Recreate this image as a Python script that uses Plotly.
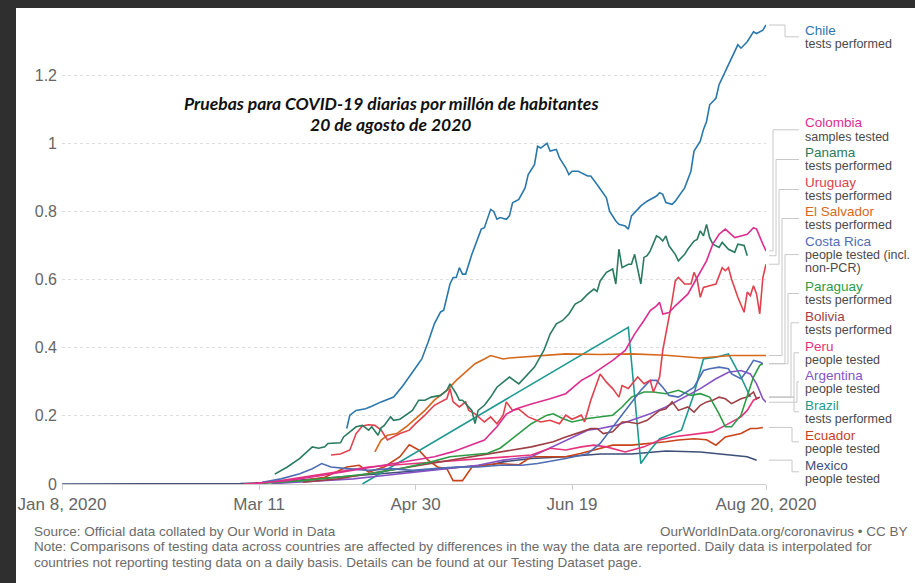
import plotly.graph_objects as go

# ---------------- data ----------------
chile_dates = ["04-08","04-09","04-11","04-14","04-16","04-19","04-23","04-26","04-29","05-02","05-04","05-06","05-08","05-09","05-11","05-12","05-13","05-14","05-15","05-16","05-18","05-19","05-21","05-22","05-24","05-25","05-26","05-27","05-29","05-30","05-31","06-02","06-04","06-05","06-07","06-08","06-09","06-11","06-12","06-14","06-15","06-17","06-18","06-19","06-21","06-24","06-25","06-27","06-29","06-30","07-01","07-03","07-04","07-06","07-07","07-08","07-10","07-11","07-13","07-14","07-16","07-17","07-18","07-19","07-21","07-22","07-24","07-25","07-27","07-28","07-30","07-31","08-01","08-02","08-04","08-05","08-07","08-09","08-11","08-12","08-14","08-16","08-17","08-19","08-20"]
chile_vals = [0.163,0.202,0.216,0.221,0.228,0.241,0.255,0.289,0.328,0.367,0.416,0.47,0.505,0.51,0.587,0.606,0.606,0.635,0.616,0.616,0.674,0.699,0.748,0.752,0.806,0.80,0.777,0.782,0.777,0.787,0.825,0.835,0.869,0.908,0.937,0.991,0.986,1.0,0.977,0.982,0.957,0.928,0.908,0.918,0.918,0.904,0.904,0.879,0.855,0.84,0.801,0.772,0.762,0.757,0.748,0.787,0.806,0.816,0.83,0.835,0.845,0.855,0.85,0.826,0.821,0.83,0.855,0.869,0.918,0.977,1.006,1.04,1.064,1.113,1.132,1.172,1.211,1.249,1.289,1.279,1.298,1.327,1.322,1.332,1.347]

colombia_dates = ["03-10","03-20","03-31","04-10","04-20","04-30","05-06","05-12","05-16","05-22","05-26","05-29","06-01","06-06","06-12","06-17","06-22","06-25","06-28","07-02","07-06","07-09","07-12","07-14","07-16","07-17","07-18","07-20","07-22","07-26","07-29","08-01","08-03","08-05","08-07","08-10","08-12","08-14","08-16","08-17","08-19","08-20"]
colombia_vals = [0.002,0.01,0.025,0.04,0.055,0.07,0.08,0.095,0.109,0.129,0.168,0.205,0.22,0.235,0.25,0.265,0.304,0.319,0.338,0.363,0.392,0.44,0.48,0.509,0.523,0.533,0.499,0.503,0.523,0.557,0.606,0.655,0.704,0.733,0.748,0.723,0.728,0.733,0.752,0.748,0.704,0.684]

panama_dates = ["03-16","03-20","03-24","03-27","03-28","03-30","04-01","04-02","04-05","04-06","04-07","04-09","04-11","04-13","04-15","04-16","04-18","04-19","04-20","04-22","04-23","04-25","04-27","04-29","05-01","05-03","05-05","05-08","05-10","05-11","05-13","05-14","05-15","05-16","05-18","05-19","05-20","05-22","05-24","05-26","05-28","05-30","06-02","06-04","06-07","06-10","06-12","06-14","06-16","06-18","06-20","06-22","06-24","06-26","06-27","06-28","06-30","07-02","07-03","07-04","07-05","07-07","07-08","07-09","07-11","07-12","07-13","07-14","07-16","07-17","07-18","07-19","07-20","07-22","07-23","07-25","07-26","07-28","07-29","07-30","07-31","08-01","08-02","08-03","08-05","08-06","08-08","08-10","08-11","08-13","08-14"]
panama_vals = [0.029,0.05,0.075,0.10,0.109,0.105,0.109,0.119,0.119,0.121,0.138,0.153,0.168,0.172,0.158,0.168,0.143,0.165,0.172,0.197,0.187,0.19,0.202,0.216,0.246,0.246,0.255,0.26,0.275,0.294,0.265,0.246,0.246,0.236,0.216,0.177,0.216,0.231,0.255,0.284,0.299,0.314,0.294,0.314,0.343,0.392,0.44,0.47,0.48,0.499,0.528,0.538,0.557,0.572,0.565,0.596,0.621,0.631,0.587,0.689,0.635,0.645,0.645,0.674,0.587,0.665,0.67,0.684,0.728,0.723,0.713,0.728,0.699,0.674,0.655,0.674,0.689,0.713,0.718,0.743,0.728,0.762,0.723,0.704,0.694,0.709,0.689,0.68,0.704,0.70,0.67]

uruguay_dates = ["04-03","04-06","04-09","04-11","04-13","04-15","04-17","04-19","04-21","04-23","04-25","04-28","04-30","05-03","05-06","05-10","05-11","05-12","05-14","05-16","05-17","05-19","05-22","05-24","05-26","05-28","05-29","05-31","06-02","06-05","06-09","06-12","06-15","06-17","06-19","06-22","06-23","06-25","06-27","06-28","06-30","07-02","07-04","07-05","07-07","07-10","07-12","07-14","07-15","07-17","07-18","07-19","07-20","07-21","07-22","07-23","07-25","07-27","07-28","07-29","07-30","07-31","08-02","08-04","08-06","08-07","08-08","08-09","08-11","08-13","08-14","08-15","08-16","08-17","08-18","08-19","08-20"]
uruguay_vals = [0.085,0.088,0.10,0.148,0.17,0.174,0.172,0.158,0.129,0.138,0.148,0.158,0.177,0.202,0.231,0.25,0.28,0.241,0.226,0.241,0.216,0.206,0.182,0.197,0.177,0.202,0.241,0.216,0.22,0.197,0.182,0.187,0.177,0.202,0.19,0.202,0.182,0.246,0.294,0.323,0.299,0.28,0.255,0.289,0.28,0.314,0.294,0.304,0.27,0.314,0.392,0.44,0.489,0.538,0.596,0.606,0.587,0.587,0.621,0.60,0.548,0.577,0.582,0.587,0.635,0.626,0.635,0.601,0.548,0.504,0.563,0.553,0.582,0.557,0.499,0.606,0.645]

elsalvador_dates = ["04-17","04-19","04-21","04-24","04-27","04-30","05-03","05-06","05-10","05-13","05-16","05-19","05-22","05-24","05-26","05-28","05-30","06-06","06-17","06-28","07-08","07-19","07-30","08-09","08-20"]
elsalvador_vals = [0.094,0.129,0.143,0.148,0.168,0.192,0.216,0.246,0.275,0.304,0.328,0.353,0.367,0.377,0.372,0.367,0.37,0.374,0.382,0.38,0.382,0.378,0.37,0.377,0.377]

costarica_dates = ["03-12","03-18","03-24","03-28","03-31","04-03","04-08","04-15","04-22","04-29","05-06","05-13","05-20","05-27","06-03","06-08","06-17","06-24","06-28","07-02","07-06","07-11","07-14","07-16","07-18","07-20","07-23","07-28","07-31","08-02","08-05","08-08","08-09","08-12","08-14","08-16","08-18","08-19"]
costarica_vals = [0.005,0.015,0.03,0.045,0.06,0.05,0.045,0.04,0.045,0.04,0.045,0.05,0.05,0.055,0.055,0.06,0.075,0.089,0.119,0.168,0.216,0.275,0.304,0.304,0.284,0.26,0.255,0.284,0.333,0.338,0.343,0.338,0.323,0.309,0.333,0.363,0.358,0.353]

paraguay_dates = ["03-12","03-25","04-05","04-15","04-25","05-05","05-11","05-18","05-23","05-27","06-02","06-06","06-11","06-13","06-16","06-19","06-24","06-28","07-02","07-05","07-08","07-12","07-15","07-19","07-23","07-27","07-30","08-02","08-05","08-07","08-09","08-12","08-14","08-16","08-18","08-19"]
paraguay_vals = [0.002,0.01,0.02,0.03,0.045,0.065,0.08,0.085,0.09,0.105,0.148,0.177,0.202,0.206,0.192,0.182,0.192,0.197,0.202,0.226,0.255,0.27,0.27,0.265,0.275,0.26,0.265,0.255,0.206,0.168,0.168,0.202,0.255,0.314,0.348,0.353]

bolivia_dates = ["03-25","04-05","04-15","04-25","05-05","05-15","05-22","05-28","06-06","06-13","06-17","06-22","06-25","06-27","06-29","07-02","07-05","07-07","07-10","07-13","07-15","07-17","07-19","07-21","07-23","07-26","07-28","07-30","08-01","08-03","08-05","08-07","08-09","08-12","08-14","08-16","08-17","08-18"]
bolivia_vals = [0.005,0.015,0.03,0.045,0.06,0.075,0.085,0.094,0.109,0.124,0.138,0.153,0.163,0.163,0.148,0.153,0.182,0.182,0.177,0.187,0.202,0.216,0.221,0.241,0.216,0.226,0.211,0.231,0.241,0.246,0.255,0.25,0.236,0.25,0.255,0.27,0.25,0.255]

peru_dates = ["03-06","03-11","03-18","03-25","04-01","04-08","04-15","04-22","04-29","05-06","05-13","05-20","05-28","06-06","06-12","06-17","06-22","06-26","06-30","07-06","07-12","07-17","07-21","07-26","07-30","08-03","08-07","08-09","08-12","08-14","08-16","08-18"]
peru_vals = [0.0,0.003,0.01,0.02,0.03,0.04,0.05,0.055,0.06,0.065,0.07,0.075,0.08,0.085,0.105,0.10,0.109,0.114,0.109,0.094,0.109,0.129,0.138,0.143,0.148,0.153,0.172,0.182,0.197,0.216,0.246,0.255]

argentina_dates = ["03-15","03-30","04-10","04-20","05-01","05-10","05-20","05-28","06-06","06-17","06-24","06-28","07-03","07-08","07-14","07-19","07-25","07-30","08-04","08-08","08-12","08-15","08-17","08-19","08-20"]
argentina_vals = [0.001,0.008,0.015,0.025,0.035,0.045,0.055,0.07,0.08,0.129,0.158,0.163,0.172,0.187,0.206,0.226,0.255,0.28,0.309,0.328,0.333,0.323,0.294,0.25,0.24]

brazil_dates = ["04-13","07-07","07-11","07-14","07-17","07-21","07-24","07-28","07-31","08-04","08-08","08-12","08-15"]
brazil_vals = [0.0,0.46,0.06,0.10,0.133,0.148,0.158,0.265,0.367,0.372,0.382,0.314,0.255]

ecuador_dates = ["03-15","03-25","04-01","04-08","04-12","04-15","04-20","04-25","04-28","05-01","05-04","05-07","05-10","05-12","05-15","05-18","05-22","05-26","05-30","06-02","06-06","06-12","06-17","06-22","06-28","07-02","07-08","07-14","07-19","07-23","07-28","08-01","08-04","08-07","08-12","08-15","08-17","08-19"]
ecuador_vals = [0.002,0.01,0.02,0.05,0.055,0.035,0.05,0.08,0.115,0.10,0.07,0.05,0.045,0.01,0.01,0.05,0.055,0.06,0.058,0.056,0.08,0.08,0.08,0.09,0.105,0.114,0.114,0.119,0.124,0.129,0.133,0.13,0.114,0.138,0.148,0.163,0.163,0.166]

mexico_dates = ["01-08","02-28","03-05","03-15","03-25","04-05","04-15","04-25","05-05","05-15","05-25","05-28","06-06","06-17","06-28","07-08","07-16","07-19","07-30","08-09","08-14","08-17"]
mexico_vals = [0.0,0.0,0.001,0.005,0.012,0.02,0.028,0.035,0.042,0.05,0.058,0.065,0.075,0.08,0.088,0.088,0.094,0.097,0.094,0.085,0.08,0.07]

countries = ["Chile","Colombia","Panama","Uruguay","El Salvador","Costa Rica","Paraguay","Bolivia","Peru","Argentina","Brazil","Ecuador","Mexico"]
metrics = [["tests performed"],["samples tested"],["tests performed"],["tests performed"],["tests performed"],
           ["people tested (incl.","non-PCR)"],["tests performed"],["tests performed"],["people tested"],
           ["people tested"],["tests performed"],["people tested"],["people tested"]]
series_dates = [chile_dates,colombia_dates,panama_dates,uruguay_dates,elsalvador_dates,costarica_dates,
                paraguay_dates,bolivia_dates,peru_dates,argentina_dates,brazil_dates,ecuador_dates,mexico_dates]
series_vals = [chile_vals,colombia_vals,panama_vals,uruguay_vals,elsalvador_vals,costarica_vals,
               paraguay_vals,bolivia_vals,peru_vals,argentina_vals,brazil_vals,ecuador_vals,mexico_vals]

y_ticks = [0,0.2,0.4,0.6,0.8,1.0,1.2]
x_tick_dates = ["2020-01-08","2020-03-11","2020-04-30","2020-06-19","2020-08-20"]
x_tick_text = ["Jan 8, 2020","Mar 11","Apr 30","Jun 19","Aug 20, 2020"]

# ---------------- styling / layout ----------------
colors = ["#2a78ab","#dd2e90","#2a7b60","#e0414d","#d6691e","#4f6db3","#2d9c46",
          "#9e3f45","#e6337c","#8753c4","#1f9a92","#c8431a","#3e4f78"]

W, H = 915, 583
L, R, T, B = 62, 149, 24, 99
PW, PH = W - L - R, H - T - B
YMAX = 1.35

def px_x(px):
    return (px - L) / PW

def px_y(py):
    return (H - B - py) / PH

fig = go.Figure()
order = [12, 11, 10, 9, 8, 7, 6, 5, 4, 3, 2, 1, 0]
for i in order:
    fig.add_trace(go.Scatter(
        x=["2020-" + d for d in series_dates[i]], y=series_vals[i],
        mode="lines", line=dict(color=colors[i], width=1.6),
        name=countries[i], showlegend=False, hoverinfo="skip"))

shapes = []
annotations = []

# dark screenshot frame (top and left)
shapes.append(dict(type="rect", xref="paper", yref="paper", layer="below",
                   x0=px_x(0), x1=px_x(W), y0=px_y(0), y1=px_y(8),
                   fillcolor="#2f2f2f", line=dict(width=0)))
shapes.append(dict(type="rect", xref="paper", yref="paper", layer="below",
                   x0=px_x(0), x1=px_x(16), y0=px_y(0), y1=px_y(H),
                   fillcolor="#2f2f2f", line=dict(width=0)))

# right-hand labels with connector lines
name_px_y = [30, 123, 152.7, 182.7, 211.7, 241, 286.7, 316, 346, 375, 405, 435, 465]
elbow_px_x = [785, 773, 776, 779, 782, 785, 788, 791, 794, 797, 794, 792, 792]
LINE_GAP = 13.6
for i, c in enumerate(countries):
    ny = name_px_y[i]
    annotations.append(dict(x=px_x(803), y=px_y(ny), xref="paper", yref="paper",
                            text=c, showarrow=False, xanchor="left", yanchor="middle",
                            font=dict(family="Liberation Sans, Arial, sans-serif", size=13.5, color=colors[i])))
    for k, sub in enumerate(metrics[i]):
        annotations.append(dict(x=px_x(803), y=px_y(ny + LINE_GAP * (k + 1)), xref="paper", yref="paper",
                                text=sub, showarrow=False, xanchor="left", yanchor="middle",
                                font=dict(family="Liberation Sans, Arial, sans-serif", size=12.5, color="#4a4a4a")))
    block_center = ny + LINE_GAP * len(metrics[i]) / 2
    end_y = series_vals[i][-1] / YMAX
    x0, x1, x2 = px_x(769), px_x(elbow_px_x[i]), px_x(799)
    yc = px_y(block_center)
    shapes.append(dict(type="path", xref="paper", yref="paper",
                       path=f"M {x0},{end_y} L {x1},{end_y} L {x1},{yc} L {x2},{yc}",
                       line=dict(color="#c8c8c8", width=1)))

# chart title inside the plot
title_font = dict(family="Lato, 'Open Sans', sans-serif", size=17.5, color="#111111",
                  weight="bold", style="italic")
annotations.append(dict(x=px_x(391), y=px_y(103), xref="paper", yref="paper", showarrow=False,
                        text="Pruebas para COVID-19 diarias por millón de habitantes",
                        xanchor="center", yanchor="middle", font=title_font))
annotations.append(dict(x=px_x(391), y=px_y(125), xref="paper", yref="paper", showarrow=False,
                        text="20 de agosto de 2020",
                        xanchor="center", yanchor="middle", font=title_font))

# footer
foot_font = dict(family="Liberation Sans, Arial, sans-serif", size=13.5, color="#6b6b6b")
annotations.append(dict(x=px_x(32), y=px_y(531), xref="paper", yref="paper", showarrow=False,
                        text="Source: Official data collated by Our World in Data",
                        xanchor="left", yanchor="middle", font=foot_font))
annotations.append(dict(x=px_x(910), y=px_y(531), xref="paper", yref="paper", showarrow=False,
                        text="OurWorldInData.org/coronavirus • CC BY",
                        xanchor="right", yanchor="middle", font=foot_font))
annotations.append(dict(x=px_x(32), y=px_y(546.5), xref="paper", yref="paper", showarrow=False,
                        text="Note: Comparisons of testing data across countries are affected by differences in the way the data are reported. Daily data is interpolated for",
                        xanchor="left", yanchor="middle", font=foot_font))
annotations.append(dict(x=px_x(32), y=px_y(562), xref="paper", yref="paper", showarrow=False,
                        text="countries not reporting testing data on a daily basis. Details can be found at our Testing Dataset page.",
                        xanchor="left", yanchor="middle", font=foot_font))

fig.update_layout(
    width=W, height=H,
    margin=dict(l=L, r=R, t=T, b=B, autoexpand=False),
    paper_bgcolor="white", plot_bgcolor="white",
    font=dict(family="Liberation Sans, Arial, sans-serif", color="#666666"),
    shapes=shapes, annotations=annotations,
    xaxis=dict(type="date", range=["2020-01-08", "2020-08-20"],
               tickvals=x_tick_dates, ticktext=x_tick_text,
               showgrid=False, zeroline=False,
               showline=True, linecolor="#cccccc", linewidth=1,
               ticks="outside", ticklen=5, tickcolor="#cccccc",
               tickfont=dict(size=17, color="#666666"), fixedrange=True),
    yaxis=dict(range=[0, YMAX], tickvals=y_ticks,
               showgrid=True, gridcolor="#dddddd", griddash="3px,3px", gridwidth=1,
               zeroline=False, showline=False, ticks="",
               ticklabelstandoff=4,
               tickfont=dict(size=16, color="#666666"), fixedrange=True),
)

fig.write_html("out.html", config={"displayModeBar": False},
               post_script="document.body.style.margin='0';document.body.style.overflow='hidden';")
